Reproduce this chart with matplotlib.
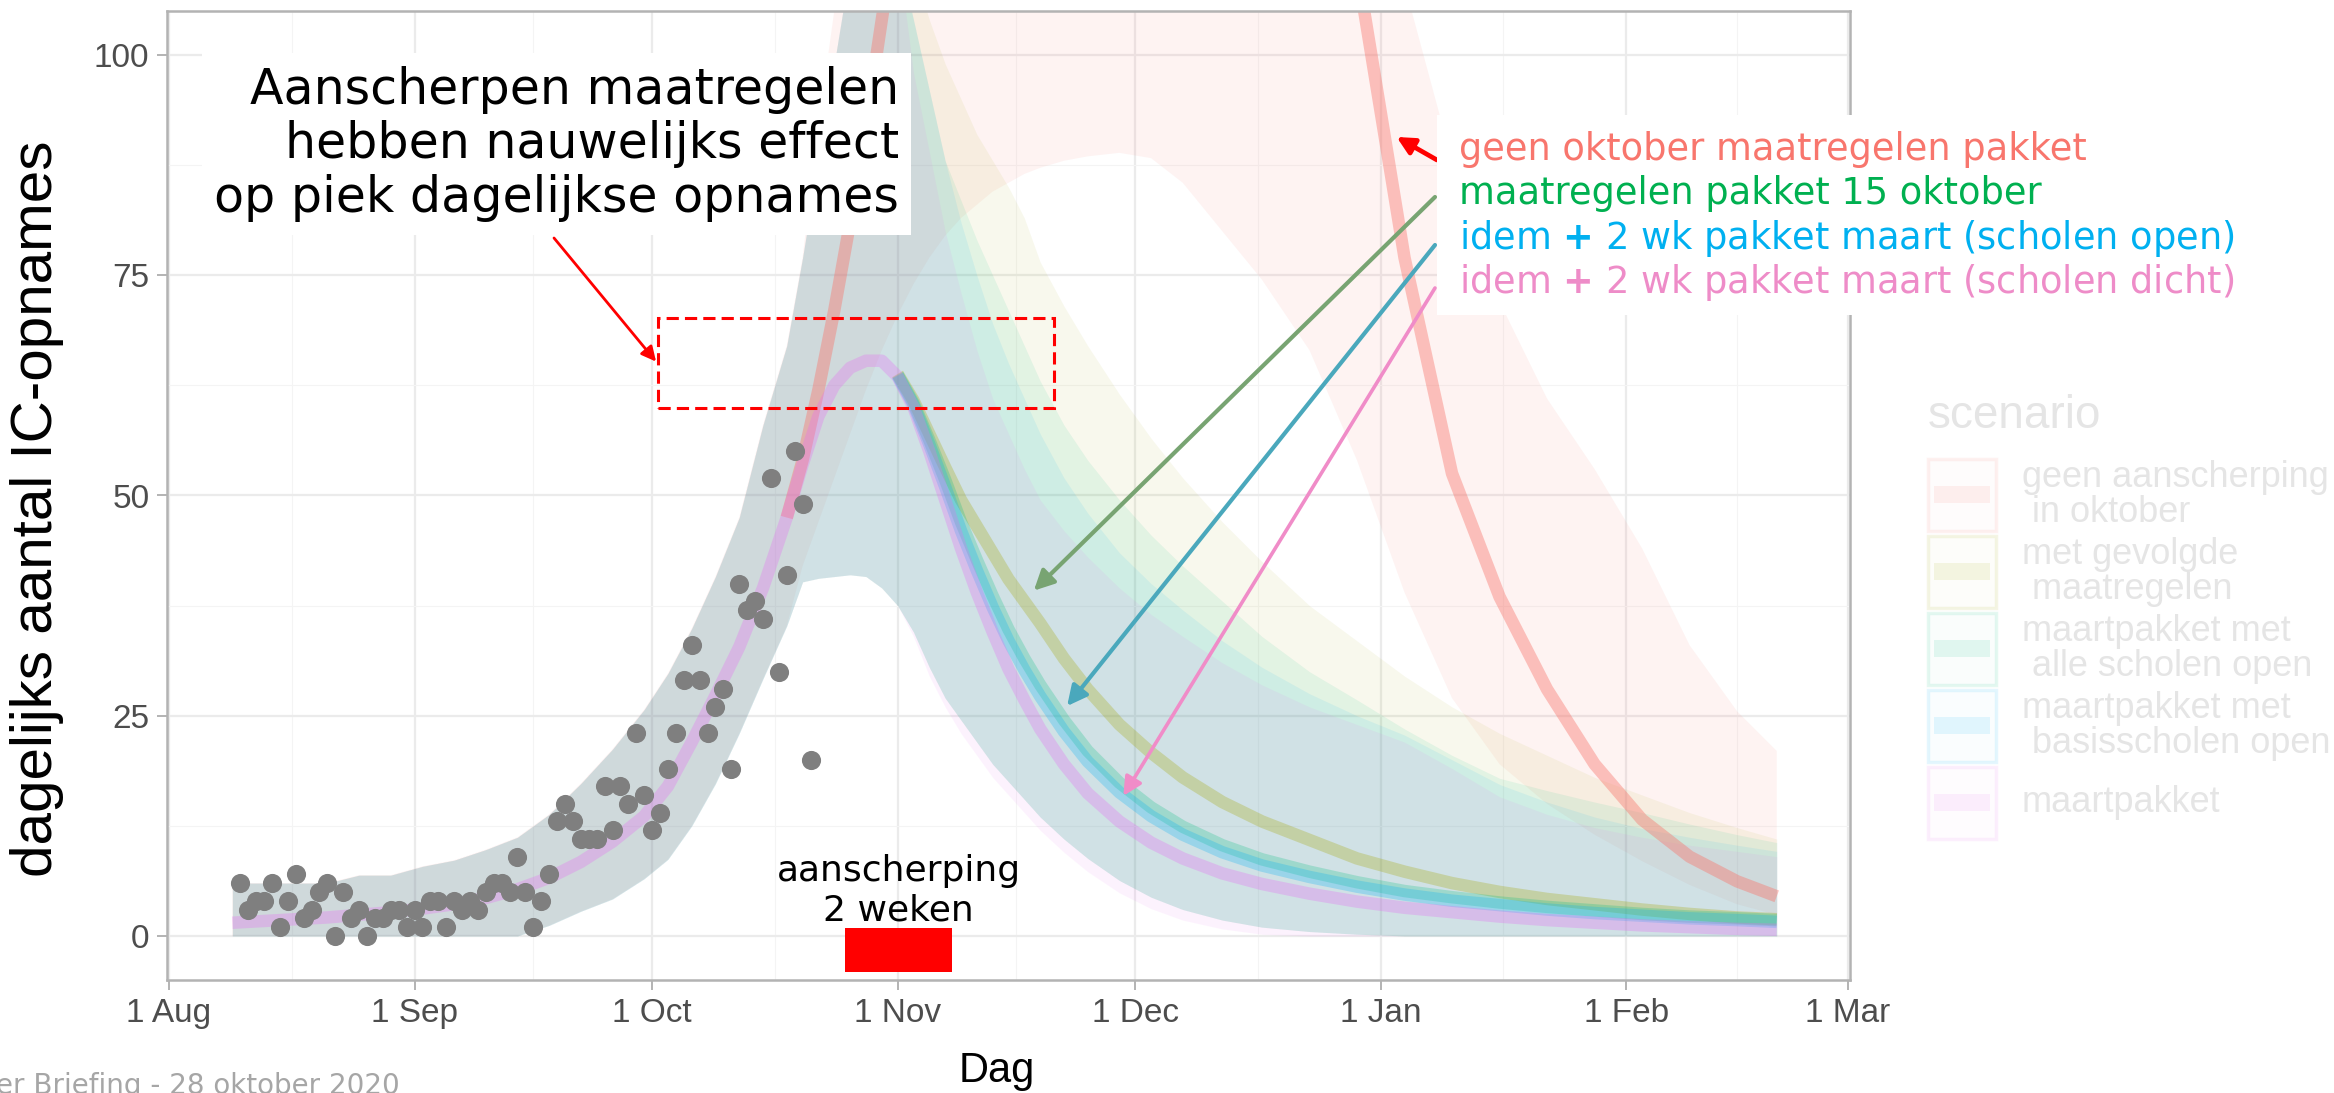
import numpy as np
import matplotlib.pyplot as plt
from matplotlib.patches import Rectangle
from matplotlib.colors import to_rgba

# days are counted from 1 Aug 2020
month_days = [0, 31, 61, 92, 122, 153, 184, 212]
month_labels = ["1 Aug", "1 Sep", "1 Oct", "1 Nov", "1 Dec", "1 Jan", "1 Feb", "1 Mar"]

# observed daily IC admissions
obs_day = list(range(9, 82))
obs_val = [6, 3, 4, 4, 6, 1, 4, 7, 2, 3, 5, 6, 0, 5, 2, 3, 0, 2, 2, 3, 3, 1, 3, 1, 4, 4, 1, 4,
           3, 4, 3, 5, 6, 6, 5, 9, 5, 1, 4, 7, 13, 15, 13, 11, 11, 11, 17, 12, 17, 15, 23, 16,
           12, 14, 19, 23, 29, 33, 29, 23, 26, 28, 19, 40, 37, 38, 36, 52, 30, 41, 55, 49, 20]

# model: common part before the scenarios split
days_early = [8, 12, 16, 20, 24, 28, 32, 36, 40, 44, 48, 52, 56, 60, 63, 66, 69, 72, 75, 78]
mid_early = [1.5, 1.7, 1.9, 2.1, 2.4, 2.7, 3.1, 3.6, 4.3, 5.3, 6.6, 8.4, 10.7, 13.6, 17.0,
             22.0, 27.3, 32.8, 39.5, 47.5]
lo_early = [0, 0, 0, 0, 0, 0, 0, 0, 0, 0, 1.2, 2.8, 4.2, 6.5, 8.7, 12.5, 17.3, 23.0, 29.2, 35.2]
hi_early = [6.0, 6.0, 6.0, 6.0, 6.9, 6.9, 7.9, 8.6, 9.8, 11.2, 13.8, 17.3, 21.2, 25.7, 29.8,
            34.9, 40.8, 47.5, 58.0, 67.0]

# model: per scenario
days_late = [80, 82, 84, 86, 88, 90, 92, 94, 96, 98, 100, 102, 104, 106, 108, 110, 113, 116,
             120, 124, 128, 133, 138, 144, 150, 156, 162, 168, 174, 180, 186, 192, 198, 203]

mid1 = [54, 62, 71, 81, 92, 104, 116, 128, 140, 150, 160, 168, 176, 183, 189, 194, 199, 202,
        203, 201, 196, 186, 172, 150, 110, 77, 52.5, 38.5, 28, 19.5, 13.2, 9, 6.2, 4.5]
lo1 = [42, 47, 52, 57, 62, 66.5, 70.5, 74, 77, 79.5, 81.5, 83, 84.5, 85.5, 86.5, 87.2, 88, 88.5,
       88.9, 88.3, 85.5, 80, 74.5, 66.5, 54, 39, 27, 19.5, 15, 11.5, 8.5, 5.8, 3.6, 2.4]
hi1 = [77, 92, 105, 120, 135, 150, 165, 180, 195, 210, 220, 230, 240, 250, 255, 260, 265, 268,
       270, 268, 262, 250, 235, 210, 160, 108, 88, 72, 61, 53, 44, 33, 25.5, 21]

mid2 = [53.5, 59.0, 62.5, 64.5, 65.3, 65.3, 63.8, 60.8, 57.0, 53.2, 49.5, 46.5, 43.5, 40.5, 38.0,
        35.5, 31.5, 28.0, 24.0, 20.8, 18.0, 15.2, 13.0, 10.9, 8.8, 7.3, 6.0, 5.0, 4.2, 3.6, 3.0,
        2.5, 2.1, 1.9]
hi2 = [77, 88, 99, 110, 115, 118, 115, 110, 104, 99, 95, 91, 88, 85, 81.5, 76.5, 71.5, 67, 61.5,
       56.5, 52, 47, 42.5, 37.5, 33.5, 29.5, 26, 23, 20.5, 18, 16, 14, 12.3, 11]

mid3 = [53.5, 59.0, 62.5, 64.5, 65.3, 65.3, 63.7, 60.5, 56.3, 51.8, 47.0, 42.7, 38.6, 34.8, 31.5,
        28.5, 24.5, 21.0, 17.4, 14.6, 12.4, 10.3, 8.7, 7.3, 6.1, 5.1, 4.4, 3.8, 3.3, 2.9, 2.5,
        2.2, 2.0, 1.8]
hi3 = [77, 88, 99, 110, 115, 118, 112, 104, 96, 88, 83.5, 79, 75, 71, 67, 63, 58, 54, 49.5,
       45.5, 42, 38, 34, 30, 26.8, 23.5, 20.5, 17.9, 16.5, 15.2, 14, 12.7, 11.5, 10.6]

mid4 = [53.5, 59.0, 62.5, 64.5, 65.3, 65.3, 63.6, 60.3, 55.8, 51.0, 46.0, 41.5, 37.3, 33.5, 30.2,
        27.2, 23.2, 19.8, 16.3, 13.6, 11.5, 9.5, 8.0, 6.7, 5.6, 4.7, 4.0, 3.5, 3.0, 2.6, 2.3,
        2.0, 1.8, 1.6]
hi4 = [77, 88, 99, 110, 115, 118, 112, 104, 96, 88, 81, 75, 69.5, 65, 61, 57, 52, 48, 43.5, 40,
       37, 33.5, 30.5, 27.5, 25, 22.8, 20, 17.2, 15.2, 13.5, 12.2, 11.2, 10.3, 9.6]

lo_other = [40.2, 40.6, 40.8, 41.0, 40.8, 39.5, 37.5, 34.5, 30.5, 27.0, 24.5, 22.0, 19.5, 17.5,
            15.5, 13.5, 11.0, 8.8, 6.3, 4.4, 3.0, 1.8, 1.0, 0.5, 0.2, 0, 0, 0, 0, 0, 0, 0, 0, 0]

mid5 = [53.5, 59.0, 62.5, 64.5, 65.3, 65.3, 63.5, 60.0, 55.0, 49.5, 44.0, 39.0, 34.5, 30.3, 26.8,
        23.5, 19.5, 16.2, 13.0, 10.6, 8.8, 7.1, 5.9, 4.8, 3.9, 3.2, 2.7, 2.2, 1.8, 1.5, 1.2,
        1.0, 0.8, 0.7]
lo5 = [40.2, 40.6, 40.8, 41.0, 40.8, 39.5, 37.5, 34.0, 29.5, 26.0, 23.0, 20.5, 18.0, 16.0, 14.0,
       12.0, 9.5, 7.3, 4.9, 3.1, 1.8, 0.8, 0.2, 0, 0, 0, 0, 0, 0, 0, 0, 0, 0, 0]
hi5 = [77, 88, 99, 110, 115, 118, 112, 98, 89, 80, 73, 66.5, 61, 57, 53, 49.5, 46, 43, 39.5,
       36.5, 34, 31, 28.5, 26, 24, 22, 19, 15.8, 13.8, 12.3, 11.2, 10.3, 9.6, 9.0]

scenarios = ["geen aanscherping\n in oktober", "met gevolgde\n maatregelen",
             "maartpakket met\n alle scholen open", "maartpakket met\n basisscholen open",
             "maartpakket"]
colors = ["#F8766D", "#A3A500", "#00BF7D", "#00B0F6", "#E76BF3"]
mids = [mid1, mid2, mid3, mid4, mid5]
los = [lo1, lo_other, lo_other, lo_other, lo5]
his = [hi1, hi2, hi3, hi4, hi5]
line_from = [78, 92, 92, 92, 8]   # day where each scenario line leaves the shared path
band_alpha = [0.085, 0.07, 0.085, 0.085, 0.085]
line_alpha = [0.42, 0.28, 0.24, 0.26, 0.3]

# annotation positions (data units)
box_days, box_vals = (61.7, 111.8), (59.9, 70.1)
period_days, period_vals = (85.4, 98.9), (-4.1, 0.9)

GG = ["Liberation Sans", "DejaVu Sans"]
PP = ["DejaVu Sans"]
W, H = 2334, 1093


def fx(px):
    return px / W


def fy(py):
    return 1 - py / H


fig = plt.figure(figsize=(W / 100, H / 100), dpi=100)
ax = fig.add_axes([fx(167.4), fy(980), fx(1849.6) - fx(167.4), fy(11) - fy(980)])

x = np.array(days_early + days_late)
for c, lo, hi, a in zip(colors, los, his, band_alpha):
    ax.fill_between(x, lo_early + lo, hi_early + hi, color=c, alpha=a, lw=0)
for c, m, start, a in zip(colors, mids, line_from, line_alpha):
    y = np.array(mid_early + m)
    keep = x >= start
    ax.plot(x[keep], y[keep], color=c, alpha=a, lw=9, solid_capstyle="butt")
ax.scatter(obs_day, obs_val, s=190, color="#7F7F7F", zorder=5, lw=0)

ax.set_xlim(-0.2, 212.2)
ax.set_ylim(-5, 105)
ax.set_xticks(month_days)
ax.set_xticklabels(month_labels)
ax.set_xticks([(a + b) / 2 for a, b in zip(month_days[:-1], month_days[1:])], minor=True)
ax.set_yticks([0, 25, 50, 75, 100])
ax.set_yticks([12.5, 37.5, 62.5, 87.5], minor=True)
ax.grid(which="major", color="#EBEBEB", lw=1.6)
ax.grid(which="minor", color="#F4F4F4", lw=0.8)
ax.set_axisbelow(True)
for s in ax.spines.values():
    s.set_color("#B3B3B3")
    s.set_linewidth(1.8)
ax.tick_params(which="major", length=7, width=1.4, color="#B3B3B3", labelsize=24,
               labelcolor="#4D4D4D", pad=6)
ax.tick_params(which="minor", length=0)
for t in ax.get_xticklabels() + ax.get_yticklabels():
    t.set_family(GG)

fig.text(fx(37), fy(509), "dagelijks aantal IC-opnames", rotation=90, ha="center", va="center",
         fontsize=42, family=GG)
fig.text(fx(997), fy(1082), "Dag", ha="center", va="baseline", fontsize=30, family=GG)

# dashed box around the peak and red period bar
ax.add_patch(Rectangle((box_days[0], box_vals[0]), box_days[1] - box_days[0],
                       box_vals[1] - box_vals[0], fill=False, ec="#FF0000", lw=2.2,
                       ls=(0, (4, 2)), zorder=6))
ax.add_patch(Rectangle((period_days[0], period_vals[0]), period_days[1] - period_days[0],
                       period_vals[1] - period_vals[0], color="#FF0000", lw=0, zorder=6))
ax.text(sum(period_days) / 2, 1.0, "aanscherping\n2 weken", ha="center", va="bottom",
        fontsize=26, family=PP, zorder=7)

# text boxes
fig.text(fx(899), fy(144), "Aanscherpen maatregelen\nhebben nauwelijks effect\nop piek dagelijkse opnames",
         ha="right", va="center", multialignment="right", fontsize=35.3, family=PP,
         linespacing=1.17,
         bbox=dict(facecolor="white", edgecolor="none", boxstyle="square,pad=0.25"), zorder=4)
fig.add_artist(Rectangle((fx(1437), fy(315)), fx(2265) - fx(1437), fy(115) - fy(315),
                         transform=fig.transFigure, color="white", lw=0, zorder=2))
lines = ["geen oktober maatregelen pakket", "maatregelen pakket 15 oktober",
         r"idem $\mathbf{+}$ 2 wk pakket maart (scholen open)",
         r"idem $\mathbf{+}$ 2 wk pakket maart (scholen dicht)"]
line_colors = ["#F8766D", "#00B050", "#00B0F0", "#EE8CC8"]
for i, (s, c) in enumerate(zip(lines, line_colors)):
    fig.text(fx(1458.6), fy(160 + 44.4 * i), s, color=c, fontsize=26.5, family=PP,
             va="baseline", zorder=4)

# arrows
arrows = [((155.0, 90.7), (1437, 160), "#FF0000", 3.4, 26),
          ((109.2, 39.2), (1435, 197), "#78A472", 3.0, 30),
          ((113.4, 26.1), (1435, 245), "#4AA8BC", 3.0, 30),
          ((120.5, 15.9), (1435, 288), "#F08CC8", 2.6, 28)]
for tip, tail, c, lw, ms in arrows:
    ax.annotate("", xy=tip, xytext=(fx(tail[0]), fy(tail[1])), textcoords="figure fraction",
                arrowprops=dict(arrowstyle="-|>", color=c, lw=lw, mutation_scale=ms,
                                shrinkA=0, shrinkB=0), annotation_clip=False, zorder=8)
ax.annotate("", xy=(61.5, 65.2), xytext=(fx(554), fy(238)), textcoords="figure fraction",
            arrowprops=dict(arrowstyle="-|>", color="#FF0000", lw=2.0, mutation_scale=22,
                            shrinkA=0, shrinkB=0), annotation_clip=False, zorder=8)

# faded legend, drawn by hand
fig.text(fx(1928), fy(428), "scenario", fontsize=33, family=GG, color="#E5E5E5", va="baseline")
for i, (c, lab) in enumerate(zip(colors, scenarios)):
    top = 458 + 77 * i
    fig.add_artist(Rectangle((fx(1928), fy(top + 73)), fx(68), 72 / H,
                             transform=fig.transFigure, facecolor=to_rgba(c, 0.02),
                             edgecolor=to_rgba(c, 0.1), lw=2.5))
    fig.add_artist(Rectangle((fx(1934), fy(top + 45)), fx(56), 17 / H,
                             transform=fig.transFigure, facecolor=to_rgba(c, 0.1), lw=0))
    fig.text(fx(2022), fy(top + 37), lab, fontsize=26, family=GG, color="#E5E5E5",
             va="center", linespacing=1.0)

fig.text(-0.0015, fy(1072), "er Briefing - 28 oktober 2020", fontsize=20, family=PP,
         color="#A6A6A6", va="top")

fig.savefig("out.png", dpi=100)
